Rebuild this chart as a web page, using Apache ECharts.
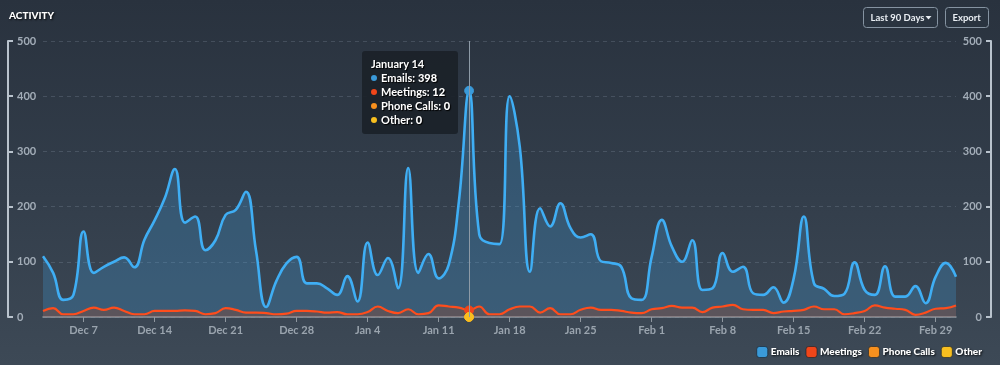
<!DOCTYPE html>
<html>
<head>
<meta charset="utf-8">
<script src="https://cdn.jsdelivr.net/npm/echarts@6/dist/echarts.min.js"></script>
<style>
  html,body{margin:0;padding:0;}
  body{width:1000px;height:365px;background:linear-gradient(to bottom,#29323e 0%,#323d4a 50%,#3d4956 100%);overflow:hidden;}
  #chart{width:1000px;height:365px;}
</style>
</head>
<body>
<div id="chart"></div>
<script>
const categories = [
  "Dec 3","Dec 4","Dec 5","Dec 6","Dec 7","Dec 8","Dec 9","Dec 10","Dec 11","Dec 12","Dec 13","Dec 14","Dec 15","Dec 16","Dec 17","Dec 18","Dec 19","Dec 20","Dec 21","Dec 22","Dec 23","Dec 24","Dec 25","Dec 26","Dec 27","Dec 28","Dec 29","Dec 30","Dec 31",
  "Jan 1","Jan 2","Jan 3","Jan 4","Jan 5","Jan 6","Jan 7","Jan 8","Jan 9","Jan 10","Jan 11","Jan 12","Jan 13","Jan 14","Jan 15","Jan 16","Jan 17","Jan 18","Jan 19","Jan 20","Jan 21","Jan 22","Jan 23","Jan 24","Jan 25","Jan 26","Jan 27","Jan 28","Jan 29","Jan 30","Jan 31",
  "Feb 1","Feb 2","Feb 3","Feb 4","Feb 5","Feb 6","Feb 7","Feb 8","Feb 9","Feb 10","Feb 11","Feb 12","Feb 13","Feb 14","Feb 15","Feb 16","Feb 17","Feb 18","Feb 19","Feb 20","Feb 21","Feb 22","Feb 23","Feb 24","Feb 25","Feb 26","Feb 27","Feb 28","Feb 29",
  "Mar 1","Mar 2"
];
const emails = [
  99,64,26,35,144,63,78,83,97,85,135,164,204,257,159,171,116,132,169,181,219,112,11,60,91,98,50,51,44,
  31,69,23,126,57,96,45,256,75,107,49,76,193,398,131,129,127,386,289,63,189,148,201,156,131,133,88,85,80,26,24,
  95,160,107,83,122,40,35,97,60,77,30,27,47,16,59,169,42,37,24,37,92,38,19,75,22,24,52,17,58,
  82,52
];
const meetings = [
  11,16,5,5,11,17,13,17,11,5,5,11,11,11,12,11,5,7,16,13,8,8,7,5,6,11,11,10,8,
  9,5,5,9,19,11,7,14,5,7,21,19,17,12,19,5,5,14,19,19,8,16,5,5,13,17,13,13,11,8,7,
  14,16,20,17,17,9,17,19,22,14,13,13,7,10,11,13,19,14,14,5,7,11,21,17,15,13,4,8,15,
  16,21
];
const phoneCalls = [
  0,0,0,0,0,0,0,0,0,0,0,0,0,0,0,0,0,0,0,0,0,0,0,0,0,0,0,0,0,
  0,0,0,0,0,0,0,0,0,0,0,0,0,0,0,0,0,0,0,0,0,0,0,0,0,0,0,0,0,0,0,
  0,0,0,0,0,0,0,0,0,0,0,0,0,0,0,0,0,0,0,0,0,0,0,0,0,0,0,0,0,
  0,0
];
const other = [
  0,0,0,0,0,0,0,0,0,0,0,0,0,0,0,0,0,0,0,0,0,0,0,0,0,0,0,0,0,
  0,0,0,0,0,0,0,0,0,0,0,0,0,0,0,0,0,0,0,0,0,0,0,0,0,0,0,0,0,0,0,
  0,0,0,0,0,0,0,0,0,0,0,0,0,0,0,0,0,0,0,0,0,0,0,0,0,0,0,0,0,
  0,0
];
const yTicks = [0,100,200,300,400,500];
const monthNames = {Dec:"December",Jan:"January",Feb:"February",Mar:"March"};
const seriesNames = ["Emails","Meetings","Phone Calls","Other"];
const legendColors = {"Emails":"#44ade0","Meetings":"#f0461a","Phone Calls":"#f7901e","Other":"#f8bf1f"};
const lineColors = {"Emails":"#3a9fde","Meetings":"#f0461a","Phone Calls":"#f7901e","Other":"#f8bf1f"};
const dotColors = {"Emails":"#3a9ad9","Meetings":"#f0461a","Phone Calls":"#f7901e","Other":"#f8bf1f"};

const FONT = "Lato, 'Open Sans', sans-serif";
const labelShow = function(idx){ return idx >= 4 && (idx - 4) % 7 === 0; };

const chart = echarts.init(document.getElementById('chart'), null, {renderer:'canvas'});

function mkSeries(name, data, z, area, width, lineOpacity){
  return {
    name: name, type: 'line', stack: 'total', data: data,
    smooth: 0.45, showSymbol: false, symbol: 'circle', symbolSize: 8,
    z: z,
    color: legendColors[name],
    itemStyle: {color: dotColors[name], borderColor: dotColors[name], borderWidth: 1},
    lineStyle: {color: lineColors[name], width: width, opacity: lineOpacity},
    areaStyle: area,
    emphasis: {lineStyle: {width: width, opacity: lineOpacity}, scale: 1.1},
    animation: false
  };
}

const shadowText = {textShadowColor:'rgba(0,0,0,0.85)', textShadowBlur: 2, textShadowOffsetX: 1, textShadowOffsetY: 1};

const option = {
  animation: false,
  backgroundColor: 'transparent',
  textStyle: {fontFamily: FONT},
  title: {
    text: 'ACTIVITY', left: 9, top: 11, padding: 0,
    textStyle: Object.assign({color:'#ffffff', fontSize: 10, fontWeight: 900, fontFamily: FONT}, shadowText)
  },
  grid: {left: 43, right: 44, top: 41, bottom: 48, containLabel: false},
  legend: {
    data: seriesNames, right: 13, bottom: 2, itemWidth: 11, itemHeight: 11, itemGap: 6,
    icon: 'roundRect',
    itemStyle: {borderColor: 'rgba(20,30,40,0.6)', borderWidth: 1},
    textStyle: Object.assign({color:'#ffffff', fontSize: 10, fontWeight: 900, fontFamily: FONT, padding:[0,0,0,-2]}, shadowText),
    selectedMode: false
  },
  tooltip: {
    trigger: 'axis',
    triggerOn: 'none',
    alwaysShowContent: true,
    backgroundColor: 'rgba(27,33,41,0.93)',
    borderWidth: 0,
    padding: [6, 8, 7, 9],
    extraCssText: 'border-radius:3px;box-shadow:none;',
    position: function(){ return [362, 51]; },
    axisPointer: {type: 'line', lineStyle: {color: '#8d9aa6', width: 1, type: 'solid'}, animation: false},
    formatter: function(params){
      const parts = params[0].axisValue.split(' ');
      let html = '<div style="font-weight:bold;color:#fff;line-height:14px;text-shadow:1px 1px 1px #000;">' + monthNames[parts[0]] + ' ' + parts[1] + '</div>';
      seriesNames.forEach(function(n){
        const p = params.find(function(q){ return q.seriesName === n; });
        if (!p) return;
        html += '<div style="line-height:14px;color:#fff;font-weight:bold;text-shadow:1px 1px 1px #000;white-space:nowrap;">' +
          '<span style="display:inline-block;width:6px;height:6px;border-radius:3px;background:' + dotColors[n] + ';margin-right:4px;vertical-align:1px;"></span>' +
          n + ': <span style="font-weight:900">' + p.value + '</span></div>';
      });
      return html;
    },
    textStyle: {fontFamily: FONT, fontSize: 11, color: '#fff'}
  },
  xAxis: {
    type: 'category', data: categories, boundaryGap: false,
    axisLine: {show: true, lineStyle: {color: '#8f979f', width: 1.5}},
    axisTick: {show: true, interval: labelShow, length: 5, lineStyle: {color: '#8f979f'}},
    axisLabel: {interval: labelShow, color: '#9aa4ae', fontSize: 11, fontWeight: 'bold', fontFamily: FONT, margin: 8},
    splitLine: {show: false}
  },
  yAxis: [
    {
      type: 'value', position: 'left', offset: 35, min: 0, max: 500, interval: 100,
      axisLine: {show: true, lineStyle: {color: '#b9c3cd', width: 2}},
      axisTick: {show: true, inside: true, length: 5, lineStyle: {color: '#b9c3cd', width: 2}},
      axisLabel: {inside: true, margin: 9, color: '#a3adb8', fontSize: 11, fontWeight: 'bold', fontFamily: FONT,
        formatter: function(v){ return yTicks.indexOf(v) >= 0 ? String(v) : ''; }},
      splitLine: {show: true, lineStyle: {color: 'rgba(160,175,190,0.22)', type: [4, 4], width: 1}}
    },
    {
      type: 'value', position: 'right', offset: 35, min: 0, max: 500, interval: 100,
      axisLine: {show: true, lineStyle: {color: '#b9c3cd', width: 2}},
      axisTick: {show: true, inside: true, length: 5, lineStyle: {color: '#b9c3cd', width: 2}},
      axisLabel: {inside: true, margin: 9, color: '#a3adb8', fontSize: 11, fontWeight: 'bold', fontFamily: FONT,
        formatter: function(v){ return yTicks.indexOf(v) >= 0 ? String(v) : ''; }},
      splitLine: {show: false}
    }
  ],
  series: [
    mkSeries('Other', other, 6, {opacity: 0}, 2, 0),
    mkSeries('Phone Calls', phoneCalls, 5, {opacity: 0}, 2, 0),
    mkSeries('Meetings', meetings, 4, {color: 'rgba(150,105,100,0.45)'}, 2.2, 1),
    mkSeries('Emails', emails, 3, {color: 'rgba(58,150,210,0.36)'}, 2.6, 1)
  ],
  graphic: [
    {type:'group', left: 863, top: 7, children: [
      {type:'rect', shape:{x:0,y:0,width:74,height:20,r:3}, style:{fill:'#2a3440', stroke:'#8593a1', lineWidth:1}},
      {type:'text', x: 7, y: 10, style:{text:'Last 90 Days', fill:'#e8edf2', font:'bold 9.5px ' + FONT, textVerticalAlign:'middle', textBaseline:'middle'}},
      {type:'polygon', shape:{points:[[62,8.5],[68,8.5],[65,12]]}, style:{fill:'#e8edf2'}}
    ]},
    {type:'group', left: 945, top: 7, children: [
      {type:'rect', shape:{x:0,y:0,width:43,height:20,r:3}, style:{fill:'#2a3440', stroke:'#8593a1', lineWidth:1}},
      {type:'text', x: 7, y: 10, style:{text:'Export', fill:'#e8edf2', font:'bold 9.5px ' + FONT, textVerticalAlign:'middle', textBaseline:'middle'}}
    ]}
  ]
};

chart.setOption(option);
chart.dispatchAction({type: 'showTip', seriesIndex: 3, dataIndex: 42});
</script>
</body>
</html>
